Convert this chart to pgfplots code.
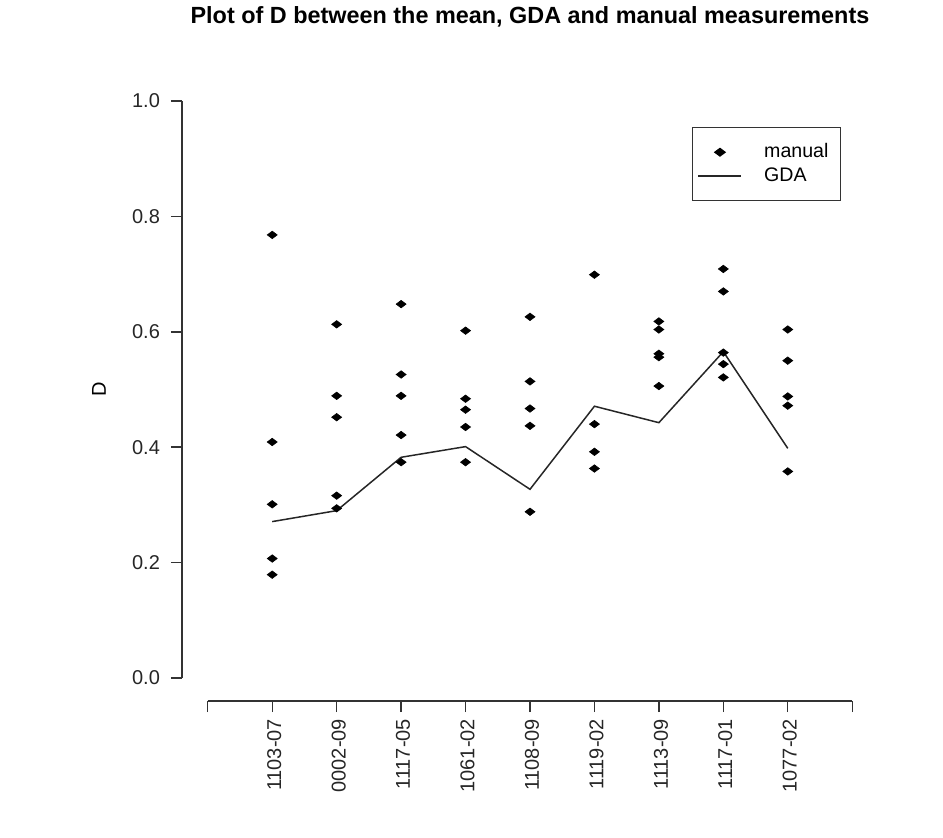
\documentclass[border=0pt]{standalone}
\usepackage{pgfplots}
\pgfplotsset{compat=1.18}
\usepackage{fontspec}
\setmainfont{Liberation Sans}
\begin{document}
\begin{tikzpicture}
\useasboundingbox (0,0) rectangle (471.5pt,418.5pt);
\begin{axis}[
  at={(91pt,68pt)}, anchor=south west,
  scale only axis, width=348pt, height=311.5pt,
  xmin=-0.4, xmax=10.4, ymin=-0.04, ymax=1.04,
  axis lines*=left,
  x axis line style={shorten <=12.9pt, shorten >=12.9pt},
  y axis line style={shorten <=11.54pt, shorten >=11.54pt},
  axis line style={color=black!80, line width=0.7pt},
  every tick/.style={color=black!80, line width=0.7pt},
  tick align=outside, major tick length=5.5pt,
  xtick={0,1,...,10},
  xticklabels={,1103-07,0002-09,1117-05,1061-02,1108-09,1119-02,1113-09,1117-01,1077-02,},
  ytick={0,0.2,0.4,0.6,0.8,1.0},
  /pgf/number format/assume math mode=true,
  yticklabel style={/pgf/number format/fixed, /pgf/number format/fixed zerofill, /pgf/number format/precision=1, xshift=-2pt},
  ticklabel style={font=\fontsize{10}{12}\selectfont, color=black!85},
  xticklabel style={rotate=90, anchor=east, yshift=-1pt},
  ylabel={D},
  ylabel style={at={(axis description cs:-0.1193,0.5)}, anchor=center, font=\fontsize{10}{12}\selectfont},
  title={Plot of D between the mean, GDA and manual measurements},
  title style={at={(axis description cs:0.5,1.069)}, anchor=base, font=\bfseries\fontsize{11.7}{14}\selectfont},
  legend style={at={(axis cs:7.514,0.955)}, anchor=north west,
    draw=black!80, line width=0.7pt, inner xsep=2.5pt, inner ysep=6.25pt,
    column sep=7.5pt, row sep=0pt,
    nodes={text height=7pt, text depth=2pt, inner ysep=1.5pt, inner xsep=3.5pt, font=\fontsize{9.8}{11}\selectfont}},
  legend cell align=left,
]
\addplot[only marks, mark=diamond*, mark size=2.5pt, mark options={rotate=90, fill=black, draw=black, line width=0.3pt},
  legend image code/.code={\path[draw=none, fill=none] (0pt,0pt) -- (21.5pt,0pt); \fill[black] (10.75pt,0pt) +(-2.5pt,0) -- +(0,1.85pt) -- +(2.5pt,0) -- +(0,-1.85pt) -- cycle;}]
table[row sep=\\]{
x y\\
1 0.768\\ 1 0.409\\ 1 0.301\\ 1 0.207\\ 1 0.179\\
2 0.613\\ 2 0.489\\ 2 0.452\\ 2 0.316\\ 2 0.294\\
3 0.648\\ 3 0.526\\ 3 0.489\\ 3 0.421\\ 3 0.374\\
4 0.602\\ 4 0.484\\ 4 0.465\\ 4 0.435\\ 4 0.374\\
5 0.626\\ 5 0.514\\ 5 0.467\\ 5 0.437\\ 5 0.288\\
6 0.699\\ 6 0.440\\ 6 0.392\\ 6 0.363\\
7 0.618\\ 7 0.604\\ 7 0.562\\ 7 0.556\\ 7 0.506\\
8 0.709\\ 8 0.670\\ 8 0.564\\ 8 0.544\\ 8 0.521\\
9 0.604\\ 9 0.550\\ 9 0.488\\ 9 0.472\\ 9 0.358\\
};
\addlegendentry{manual}
\addplot[no marks, color=black!85, line width=0.75pt,
  legend image code/.code={\draw[black!85, line width=0.75pt] (0pt,0pt) -- (21.5pt,0pt);}]
table[row sep=\\]{
x y\\
1 0.271\\ 2 0.290\\ 3 0.3825\\ 4 0.401\\ 5 0.327\\ 6 0.471\\ 7 0.4425\\ 8 0.5656\\ 9 0.398\\
};
\addlegendentry{GDA}
\end{axis}
\end{tikzpicture}
\end{document}
